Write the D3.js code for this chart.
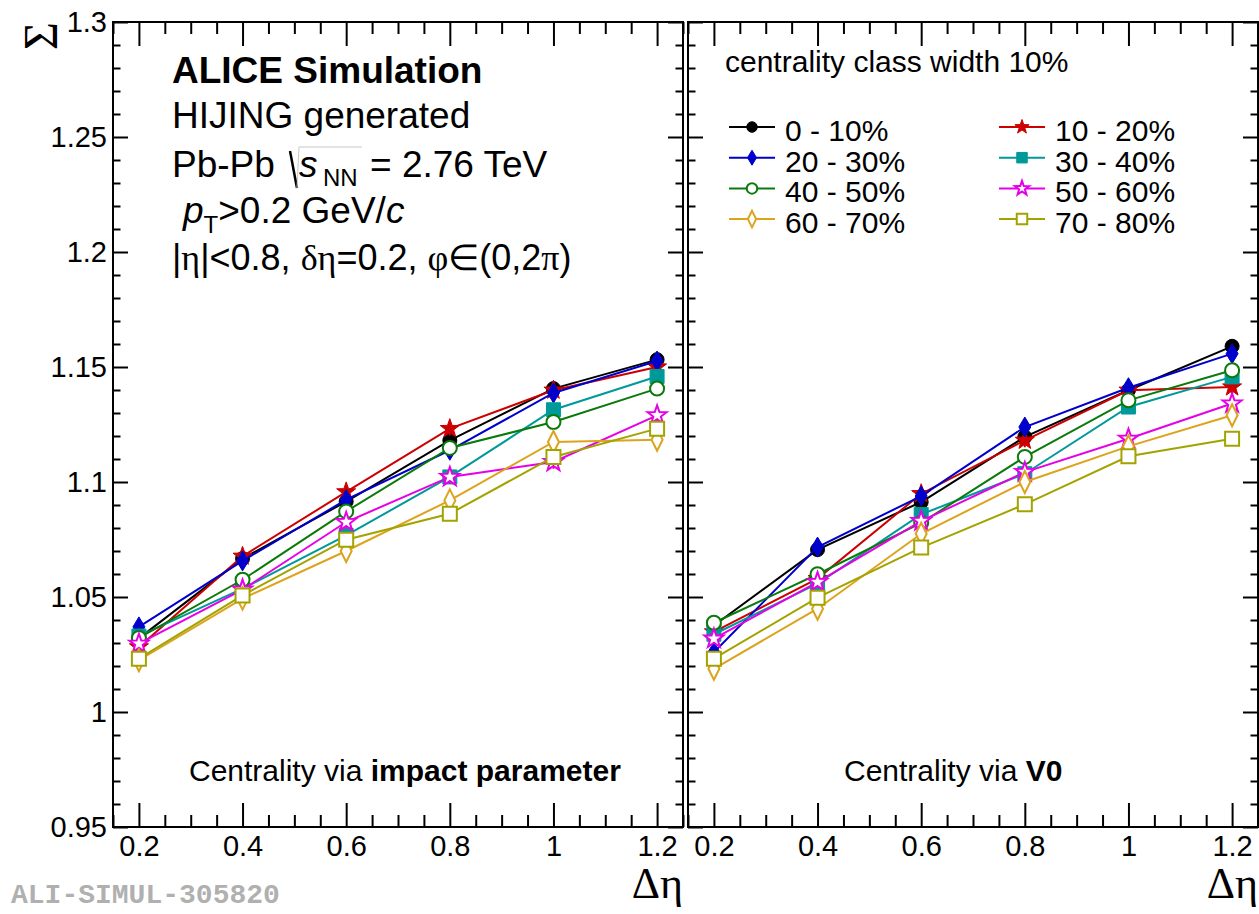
<!DOCTYPE html>
<html lang="en">
<head>
    <meta charset="UTF-8">
    <title>Sigma vs delta eta</title>
    <style type="text/css">
        * {
            margin: 0;
            padding: 0;
        }
        body {
            background-color: white;
        }
    </style>
</head>
<body>
<div id="chart-area"></div>
<script src="https://cdn.jsdelivr.net/npm/d3@7/dist/d3.min.js"></script>
<script type="text/javascript">
    // delta eta window widths (x values)
    const deta = [0.2, 0.4, 0.6, 0.8, 1.0, 1.2]
    const classes = ['0 - 10%', '10 - 20%', '20 - 30%', '30 - 40%', '40 - 50%', '50 - 60%', '60 - 70%', '70 - 80%']

    // centrality via impact parameter
    const ip_0_10 = [1.032, 1.0667, 1.0915, 1.1181, 1.1406, 1.1532]
    const ip_10_20 = [1.0283, 1.0677, 1.0957, 1.1232, 1.1399, 1.1500]
    const ip_20_30 = [1.0370, 1.0657, 1.0923, 1.1138, 1.1387, 1.1526]
    const ip_30_40 = [1.0330, 1.0536, 1.0768, 1.1022, 1.1314, 1.1459]
    const ip_40_50 = [1.0322, 1.0575, 1.0872, 1.1148, 1.1261, 1.1406]
    const ip_50_60 = [1.0297, 1.0532, 1.0826, 1.1022, 1.1087, 1.1290]
    const ip_60_70 = [1.0225, 1.0493, 1.0700, 1.0920, 1.1174, 1.1184]
    const ip_70_80 = [1.0232, 1.0507, 1.0749, 1.0862, 1.1109, 1.1232]
    const impactParam = [ip_0_10, ip_10_20, ip_20_30, ip_30_40, ip_40_50, ip_50_60, ip_60_70, ip_70_80]

    // centrality via V0
    const v0_0_10 = [1.0376, 1.0706, 1.0913, 1.1196, 1.1399, 1.1590]
    const v0_10_20 = [1.0348, 1.0580, 1.0949, 1.1181, 1.1399, 1.1413]
    const v0_20_30 = [1.0260, 1.0717, 1.0939, 1.1239, 1.1410, 1.1558]
    const v0_30_40 = [1.0338, 1.0558, 1.0859, 1.1036, 1.1326, 1.1457]
    const v0_40_50 = [1.0388, 1.0599, 1.0822, 1.1109, 1.1355, 1.1486]
    const v0_50_60 = [1.0319, 1.0565, 1.0830, 1.1043, 1.1188, 1.1341]
    const v0_60_70 = [1.0188, 1.0449, 1.0775, 1.1000, 1.1155, 1.1290]
    const v0_70_80 = [1.0232, 1.0497, 1.0715, 1.0903, 1.1112, 1.1188]
    const viaV0 = [v0_0_10, v0_10_20, v0_20_30, v0_30_40, v0_40_50, v0_50_60, v0_60_70, v0_70_80]

    // statistical errors (roughly the same for all classes)
    const sigmaErr = [0.002, 0.002, 0.003, 0.003, 0.003, 0.003]

    const xTicks = [0.2, 0.4, 0.6, 0.8, 1, 1.2]
    const yTicks = [0.95, 1, 1.05, 1.1, 1.15, 1.2, 1.25, 1.3]

    // styles
    const colors = ['#000000', '#cc0000', '#0000cc', '#00999a', '#0a7a0a', '#e600e6', '#dca31c', '#a3a300']
    const shapes = ['circle', 'star', 'thindiamond', 'square', 'circle', 'star', 'diamond', 'square']
    const filled = [true, true, true, true, false, false, false, false]

    const sans = '"Liberation Sans", Arial, sans-serif'
    const serif = '"Liberation Serif", "Times New Roman", serif'

    const width = 1259
    const height = 914
    const yTop = 22, yBottom = 827

    const svg = d3.select('#chart-area').append('svg')
    .attr('width', width)
    .attr('height', height)
    .attr('font-family', sans)
    .style('background-color', 'white')

    const y = d3.scaleLinear()
    .domain([0.95, 1.3])
    .range([yBottom, yTop])

    function markerPath(shape, k) {
      if (shape === 'circle') {
        const r = 7 * k
        return `M${r},0A${r},${r} 0 1,1 ${-r},0A${r},${r} 0 1,1 ${r},0Z`
      }
      if (shape === 'square') {
        const a = 7 * k
        return `M${-a},${-a}H${a}V${a}H${-a}Z`
      }
      if (shape === 'thindiamond') {
        return `M0,${-10 * k}L${6 * k},0L0,${10 * k}L${-6 * k},0Z`
      }
      if (shape === 'diamond') {
        return `M0,${-11 * k}L${5.5 * k},0L0,${11 * k}L${-5.5 * k},0Z`
      }
      // star
      const pts = []
      for (let i = 0; i < 10; i++) {
        const r = (i % 2 === 0 ? 10 : 4) * k
        const a = -Math.PI / 2 + i * Math.PI / 5
        pts.push([r * Math.cos(a), r * Math.sin(a)])
      }
      return 'M' + pts.map(p => p.join(',')).join('L') + 'Z'
    }

    function drawMarker(g, shape, i, k) {
      return g.append('path')
      .attr('d', markerPath(shape, k))
      .attr('fill', filled[i] ? colors[i] : 'white')
      .attr('stroke', colors[i])
      .attr('stroke-width', filled[i] ? 1 : 2)
    }

    const panels = [
      {left: 113, right: 683, data: impactParam, yLabels: true},
      {left: 688, right: 1258, data: viaV0, yLabels: false}
    ]

    const fmt = d => String(+d.toFixed(2))

    panels.forEach(p => {
      const x = d3.scaleLinear()
      .domain([0.15, 1.25])
      .range([p.left, p.right])

      const xMinor = d3.range(0.15, 1.2501, 0.05).filter(v => !xTicks.some(t => Math.abs(t - v) < 1e-6))
      const yMinor = d3.range(0.95, 1.3001, 0.01).filter(v => !yTicks.some(t => Math.abs(t - v) < 1e-6))

      const g = svg.append('g')

      // ticks on all four sides, pointing inwards
      const axes = [
        [d3.axisBottom(x).tickValues(xTicks).tickSize(-24).tickPadding(8).tickFormat(fmt), `translate(0,${yBottom})`],
        [d3.axisBottom(x).tickValues(xMinor).tickSize(-12).tickFormat(''), `translate(0,${yBottom})`],
        [d3.axisTop(x).tickValues(xTicks).tickSize(-24).tickFormat(''), `translate(0,${yTop})`],
        [d3.axisTop(x).tickValues(xMinor).tickSize(-12).tickFormat(''), `translate(0,${yTop})`],
        [d3.axisLeft(y).tickValues(yTicks).tickSize(-15).tickPadding(6).tickFormat(p.yLabels ? fmt : ''), `translate(${p.left},0)`],
        [d3.axisLeft(y).tickValues(yMinor).tickSize(-7.5).tickFormat(''), `translate(${p.left},0)`],
        [d3.axisRight(y).tickValues(yTicks).tickSize(-15).tickFormat(''), `translate(${p.right},0)`],
        [d3.axisRight(y).tickValues(yMinor).tickSize(-7.5).tickFormat(''), `translate(${p.right},0)`]
      ]
      axes.forEach(a => {
        const ag = g.append('g').attr('transform', a[1]).call(a[0])
        ag.select('.domain').remove()
        ag.selectAll('line').attr('stroke', 'black').attr('stroke-width', 2)
        ag.selectAll('text')
        .attr('font-family', sans)
        .attr('font-size', 29)
        .attr('fill', 'black')
      })

      g.append('rect')
      .attr('x', p.left)
      .attr('y', yTop)
      .attr('width', p.right - p.left)
      .attr('height', yBottom - yTop)
      .attr('fill', 'none')
      .attr('stroke', 'black')
      .attr('stroke-width', 2)

      const line = d3.line()
      .x((d, j) => x(deta[j]))
      .y(d => y(d))

      p.data.forEach((vals, i) => {
        const sg = g.append('g')
        sg.append('path')
        .attr('d', line(vals))
        .attr('fill', 'none')
        .attr('stroke', colors[i])
        .attr('stroke-width', 2)

        sg.selectAll('line.err').data(vals).enter().append('line')
        .attr('class', 'err')
        .attr('x1', (d, j) => x(deta[j]))
        .attr('x2', (d, j) => x(deta[j]))
        .attr('y1', (d, j) => y(d - sigmaErr[j]))
        .attr('y2', (d, j) => y(d + sigmaErr[j]))
        .attr('stroke', colors[i])
        .attr('stroke-width', 2)

        vals.forEach((d, j) => {
          drawMarker(sg, shapes[i], i, 1)
          .attr('transform', `translate(${x(deta[j])},${y(d)})`)
        })
      })
    })

    // ---- texts, left panel ----
    svg.append('text').attr('x', 172).attr('y', 83)
    .attr('font-size', 37).attr('font-weight', 'bold').text('ALICE Simulation')
    svg.append('text').attr('x', 172).attr('y', 128)
    .attr('font-size', 37).text('HIJING generated')

    // Pb-Pb sqrt(s_NN) line, drawn as one text with the radical sign as a path
    svg.append('path')
    .attr('d', 'M290,151L297,188')
    .attr('stroke', 'black')
    .attr('stroke-width', 2.5)
    svg.append('path')
    .attr('d', 'M297,188L299,147H362')
    .attr('fill', 'none')
    .attr('stroke', '#c8c8c8')
    .attr('stroke-width', 1)
    const pb = svg.append('text').attr('x', 172).attr('y', 177).attr('font-size', 37)
    pb.append('tspan').text('Pb-Pb')
    pb.append('tspan').attr('x', 299).attr('font-style', 'italic').text('s')
    pb.append('tspan').attr('x', 323).attr('dy', 9).attr('font-size', 24).text('NN')
    pb.append('tspan').attr('x', 370).attr('dy', -9).text('= 2.76 TeV')

    // pT line
    const pt = svg.append('text').attr('x', 183).attr('y', 223).attr('font-size', 37)
    pt.append('tspan').attr('font-style', 'italic').text('p')
    pt.append('tspan').attr('font-size', 24).attr('dy', 10).text('T')
    pt.append('tspan').attr('dy', -10).text('>0.2 GeV/')
    pt.append('tspan').attr('font-style', 'italic').text('c')

    const eta = svg.append('text').attr('x', 172).attr('y', 270).attr('font-size', 36)
    const etaParts = [['|', sans], ['η', serif], ['|<0.8, ', sans], ['δη', serif], ['=0.2, ', sans],
      ['φ∈', serif], ['(0,2', sans], ['π', serif], [')', sans]]
    etaParts.forEach(s => eta.append('tspan').attr('font-family', s[1]).text(s[0]))

    svg.append('text').attr('x', 189).attr('y', 781).attr('font-size', 30)
    .call(t => {
      t.append('tspan').text('Centrality via ')
      t.append('tspan').attr('font-weight', 'bold').text('impact parameter')
    })

    // ---- right panel texts + legend ----
    svg.append('text').attr('x', 725).attr('y', 72).attr('font-size', 30).text('centrality class width 10%')

    const leg = svg.append('g')
    classes.forEach((c, i) => {
      const cx = i % 2 === 0 ? 752 : 1022
      const cy = 127 + Math.floor(i / 2) * 30.7
      const eg = leg.append('g').attr('transform', `translate(${cx},${cy})`)
      eg.append('line').attr('x1', -23).attr('x2', 23)
      .attr('stroke', colors[i]).attr('stroke-width', 2)
      drawMarker(eg, shapes[i], i, 0.75)
      eg.append('text').attr('x', 33).attr('y', 5).attr('dy', '0.3em')
      .attr('font-size', 30).text(c)
    })

    svg.append('text').attr('x', 844).attr('y', 781).attr('font-size', 30)
    .call(t => {
      t.append('tspan').text('Centrality via ')
      t.append('tspan').attr('font-weight', 'bold').text('V0')
    })

    // ---- axis titles ----
    svg.append('text')
    .attr('transform', 'translate(57,22) rotate(-90)')
    .attr('text-anchor', 'end')
    .attr('font-family', serif)
    .attr('font-size', 48)
    .text('Σ')

    panels.forEach(p => {
      svg.append('text')
      .attr('x', p.right)
      .attr('y', 898)
      .attr('text-anchor', 'end')
      .attr('font-family', serif)
      .attr('font-size', 44)
      .text('Δη')
    })

    svg.append('text')
    .attr('x', 11)
    .attr('y', 903)
    .attr('font-family', '"Liberation Mono", "Courier New", monospace')
    .attr('font-weight', 'bold')
    .attr('font-size', 28)
    .attr('fill', '#b0b0b0')
    .text('ALI-SIMUL-305820')
</script>
</body>
</html>
